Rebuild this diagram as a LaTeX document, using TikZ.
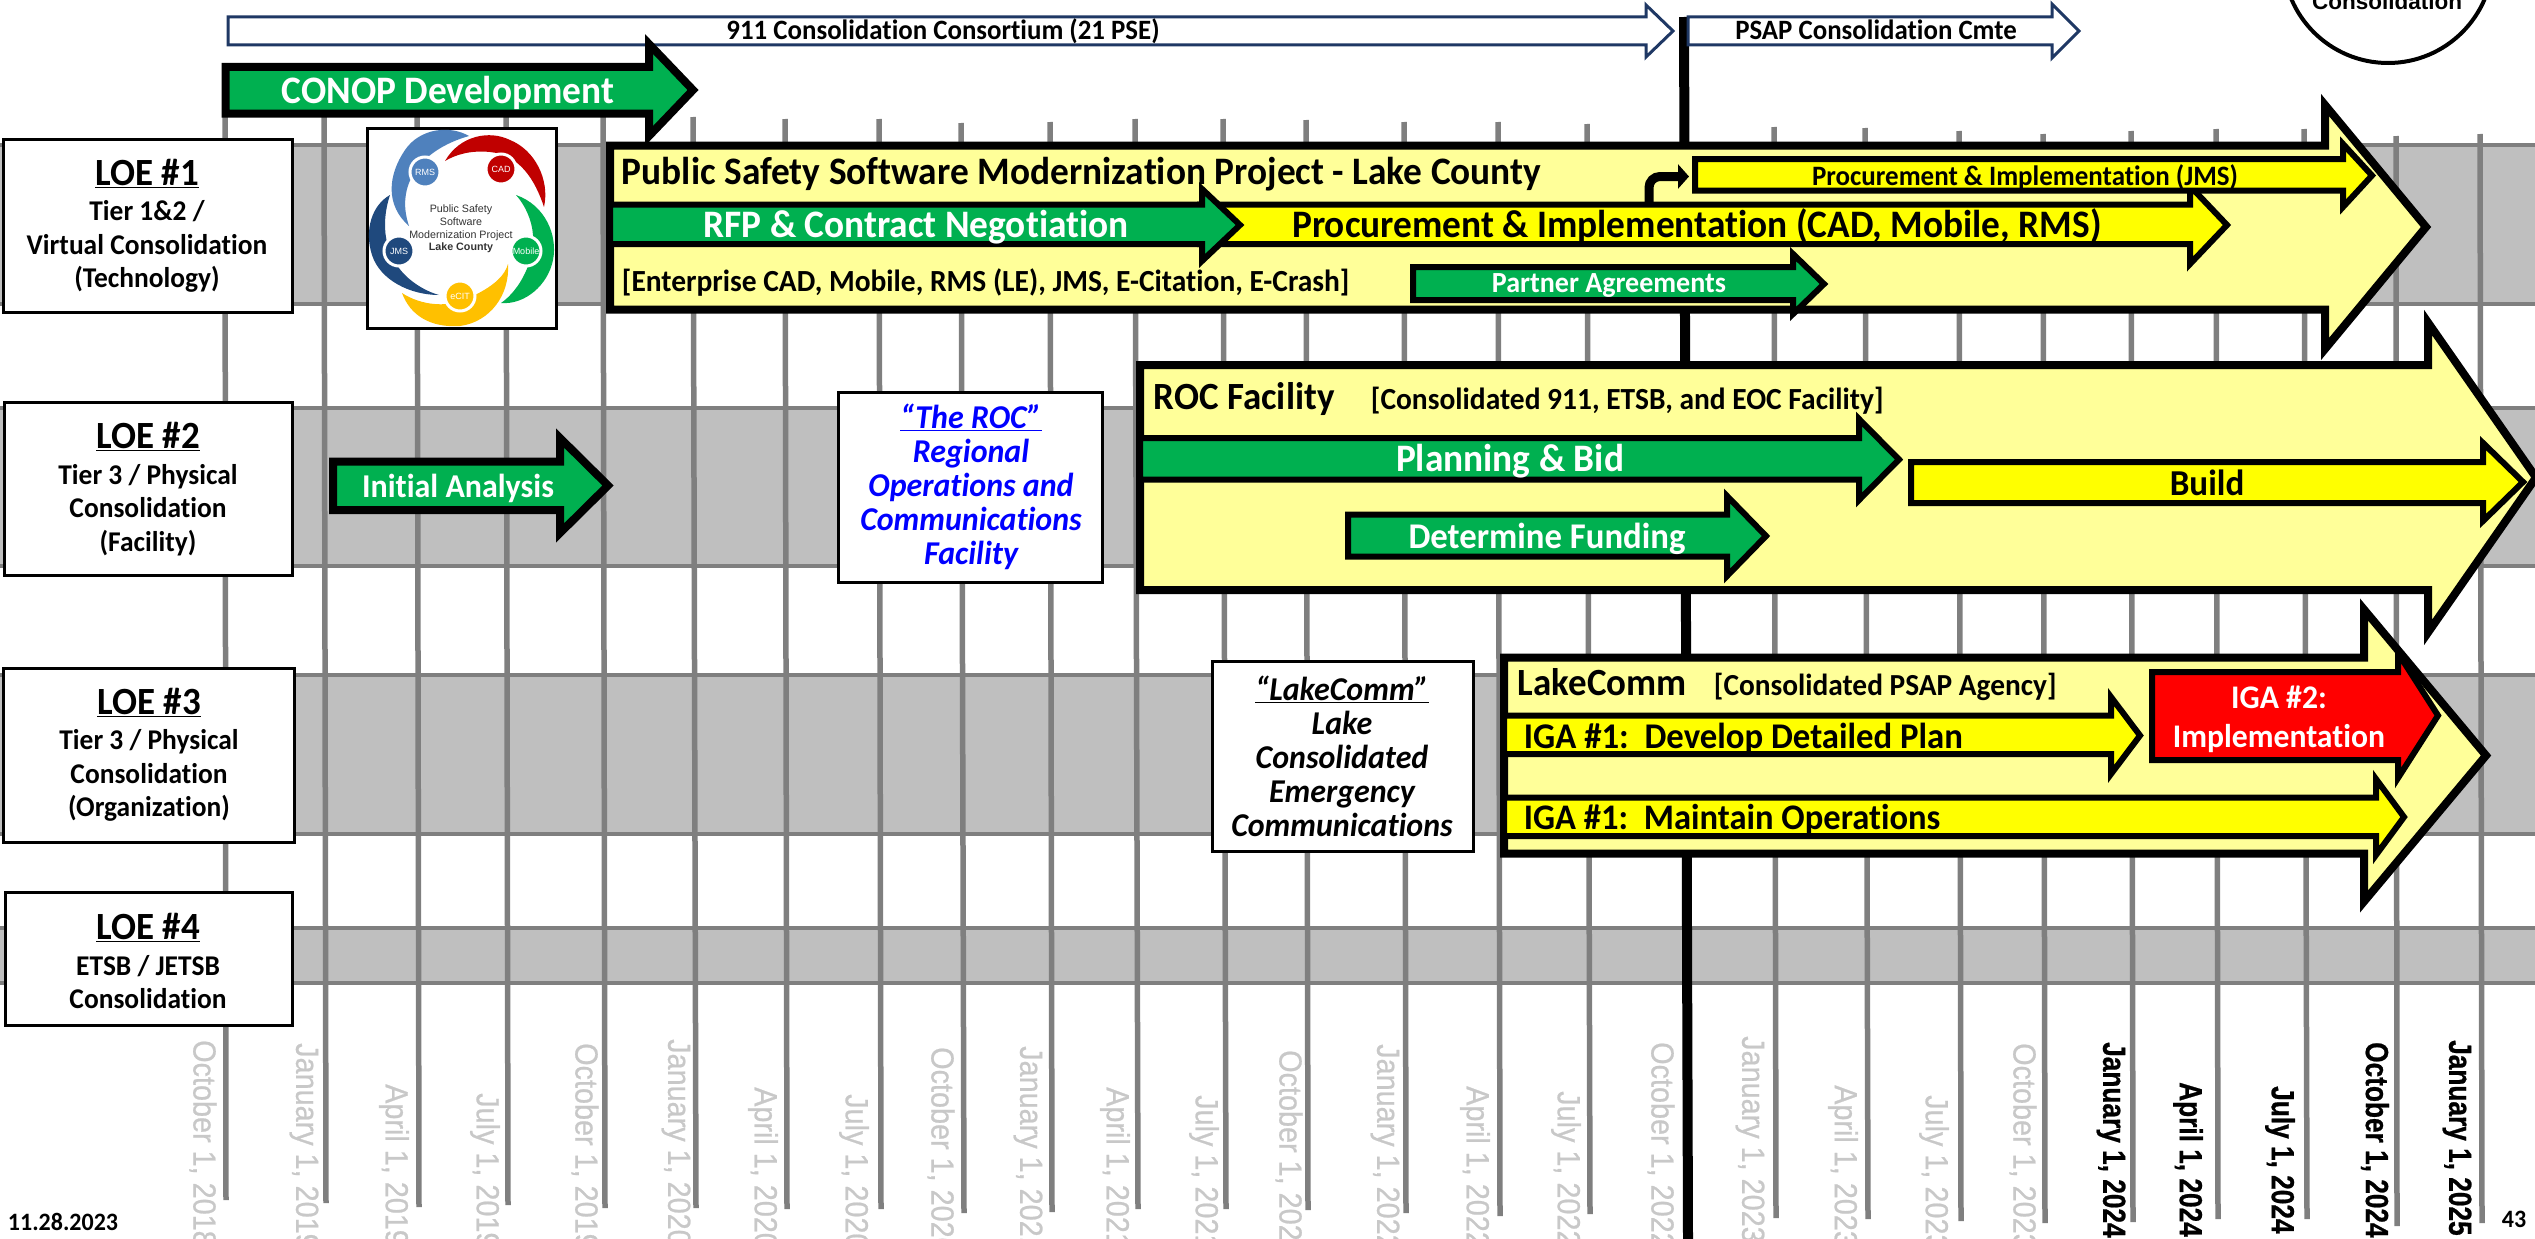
\documentclass[tikz,border=0pt]{standalone}
\usepackage{fontspec}
\setmainfont{Carlito}[FakeStretch=0.96,Ligatures=NoCommon]
\newfontfamily\datefont{Liberation Sans}[FakeStretch=0.9,FakeBold=0.7,BoldFeatures={FakeStretch=0.82}]
\newfontfamily\logofont{Liberation Sans}
\usepackage{tikz}
\usetikzlibrary{calc}
\usetikzlibrary{arrows.meta}

\definecolor{arrowgreen}{RGB}{0,176,80}
\definecolor{arrowyellow}{RGB}{255,255,0}
\definecolor{paleyellow}{RGB}{255,255,153}
\definecolor{gridgray}{RGB}{127,127,127}
\definecolor{bandgray}{RGB}{191,191,191}
\definecolor{dategray}{RGB}{200,200,200}
\definecolor{navyline}{RGB}{31,56,100}
\definecolor{logolight}{RGB}{79,129,189}
\definecolor{logored}{RGB}{192,0,0}
\definecolor{logonavy}{RGB}{31,73,125}
\definecolor{logogold}{RGB}{255,192,0}

\tikzset{
  bandrect/.style={draw=gridgray,fill=bandgray,line width=3.5},
  gridline/.style={draw=gridgray,line width=5.5},
  nowline/.style={draw=black,line width=10},
  loebox/.style={draw=black,fill=white,line width=3},
  bigarrow/.style={draw=black,fill=paleyellow,line width=8,miter limit=20},
  greenarrow/.style={draw=black,fill=arrowgreen,line width=#1,miter limit=20},
  yellowarrow/.style={draw=black,fill=arrowyellow,line width=#1,miter limit=20},
  redarrow/.style={draw=black,fill=red,line width=#1,miter limit=20},
  thinarrow/.style={draw=navyline,fill=white,line width=3,miter limit=20},
  boldtext/.style={font=\bfseries\fontsize{#1}{#1}\selectfont,inner sep=0.75pt},
  stacktext/.style={font=\bfseries\fontsize{28.6}{33.5}\selectfont,inner sep=0.75pt,align=center},
  italictext/.style={font=\bfseries\itshape\fontsize{33.3}{34}\selectfont,inner sep=0.75pt,align=center},
  datetext/.style={font=\datefont\fontsize{32}{32}\selectfont,text=dategray,rotate=-90,anchor=west,inner sep=0pt},
  datebold/.style={font=\datefont\bfseries\fontsize{32}{32}\selectfont,text=black,rotate=-90,anchor=west,inner sep=0pt},
  logodot/.style={shape=circle,draw=white,line width=3,minimum size=30,inner sep=0pt,text=white,font=\logofont\fontsize{9}{9}\selectfont},
  logotext/.style={font=\logofont\fontsize{10.7}{12.7}\selectfont,inner sep=0.75pt,align=center,text=black!80}
}
\newcommand{\loehead}[1]{{\fontsize{38.5}{40}\selectfont\underline{#1}}}

\begin{document}
\begin{tikzpicture}[x=1pt,y=1pt,yscale=-1,xscale=1]
                  \useasboundingbox (0,0) rectangle (2535,1239);

                  %Shape: Rectangle
                  \draw [bandrect] (-5,145) rectangle (2540,304);
                  \draw [bandrect] (-5,408) rectangle (2540,566);
                  \draw [bandrect] (-5,675) rectangle (2540,834);
                  \draw [bandrect] (-5,928) rectangle (2540,983);

                  %Straight Lines
                  \draw [gridline] (225,100) -- (226,1200);
                  \draw [gridline] (324,100) -- (326,1203);
                  \draw [gridline] (417,100) -- (419,1207);
                  \draw [gridline] (506,100) -- (508,1205);
                  \draw [gridline] (603,100) -- (605,1208);
                  \draw [gridline] (693,117) -- (696,1208);
                  \draw [gridline] (785,119) -- (787,1209);
                  \draw [gridline] (879,119) -- (881,1209);
                  \draw [gridline] (961,123) -- (964,1213);
                  \draw [gridline] (1050,122) -- (1052,1212);
                  \draw [gridline] (1135,119) -- (1138,1209);
                  \draw [gridline] (1223,119) -- (1226,1209);
                  \draw [gridline] (1306,120) -- (1308,1210);
                  \draw [gridline] (1404,122) -- (1406,1213);
                  \draw [gridline] (1498,122) -- (1500,1216);
                  \draw [gridline] (1587,124) -- (1590,1214);
                  \draw [gridline] (1774,127) -- (1776,1218);
                  \draw [gridline] (1865,128) -- (1868,1219);
                  \draw [gridline] (1959,131) -- (1961,1221);
                  \draw [gridline] (2043,134) -- (2045,1223);
                  \draw [gridline] (2131,131) -- (2133,1222);
                  \draw [gridline] (2216,129) -- (2218,1219);
                  \draw [gridline] (2304,129) -- (2307,1219);
                  \draw [gridline] (2396,136) -- (2397,1226);
                  \draw [gridline] (2480,134) -- (2482,1223);
                  \draw [nowline] (1684,17) -- (1688,1239);

                  %Shape: Circle
                  \draw [draw=black,fill=white,line width=4] (2388,-42) circle (105);
                  \draw (2387,10) node (circletext) [anchor=base][inner sep=0.75pt] [font=\logofont\bfseries\fontsize{22.5}{22.5}\selectfont] {Consolidation};

                  %Shape: Right Arrow
                  \draw [thinarrow] (228,17) -- (1646,17) -- (1646,5) -- (1673,31) -- (1646,57) -- (1646,45) -- (228,45) -- cycle ;
                  \draw [thinarrow] (1688,17) -- (2052,17) -- (2052,4) -- (2079,31) -- (2052,58) -- (2052,45) -- (1688,45) -- cycle ;
                  \draw [greenarrow=8] (225.5,67) -- (649,67) -- (649,44) -- (693,90) -- (649,136) -- (649,113.5) -- (225.5,113.5) -- cycle ;
                  \draw [greenarrow=8] (333,461.5) -- (560,461.5) -- (560,438) -- (608,485.5) -- (560,533) -- (560,510) -- (333,510) -- cycle ;

                  %Shape: Rectangle
                  \draw [loebox] (3,139) rectangle (292,312);
                  \draw [loebox] (4,402) rectangle (292,575);
                  \draw [loebox] (3,668) rectangle (294,842);
                  \draw [loebox] (5,892) rectangle (292,1025);
                  \draw [loebox] (367,128) rectangle (556,328);
                  \draw [loebox] (838,392) rectangle (1102,582);
                  \draw [loebox] (1212,661) rectangle (1473,851);

                  %Shape: Logo
                  \fill [logolight] (469,136) .. controls (450,125) and (420,128) .. (405,150) .. controls (388,175) and (385,205) .. (409,226) .. controls (395,185) and (420,150) .. cycle ;
                  \fill [logored] (445,161) .. controls (460,135) and (490,130) .. (510,140) .. controls (535,150) and (550,180) .. (544,207) .. controls (535,180) and (520,155) .. (490,152) .. controls (470,150) and (455,155) .. cycle ;
                  \fill [arrowgreen] (516,195) .. controls (545,205) and (558,235) .. (553,260) .. controls (548,285) and (525,305) .. (501,303) .. controls (520,290) and (535,260) .. (533,235) .. controls (532,220) and (525,205) .. cycle ;
                  \fill [logogold] (508,264) .. controls (510,295) and (490,322) .. (460,326) .. controls (430,328) and (410,315) .. (402,293) .. controls (420,305) and (450,310) .. (475,295) .. controls (495,285) and (505,275) .. cycle ;
                  \fill [logonavy] (439,295) .. controls (410,295) and (380,280) .. (372,255) .. controls (364,230) and (372,205) .. (390,195) .. controls (380,225) and (385,255) .. (405,275) .. controls (415,285) and (428,292) .. cycle ;
                  \draw (425,172) node (rmsdot) [logodot,fill=logolight] {RMS};
                  \draw (501,169) node (caddot) [logodot,fill=logored] {CAD};
                  \draw (526,251) node (mobiledot) [logodot,fill=arrowgreen] {Mobile};
                  \draw (460,296) node (ecitdot) [logodot,fill=logogold] {eCIT};
                  \draw (399,251) node (jmsdot) [logodot,fill=logonavy] {JMS};
                  \draw (461,229) node (logotitle) [logotext] {Public Safety\\Software\\Modernization Project\\\textbf{Lake County}};

                  %Shape: Right Arrow
                  \draw [bigarrow] (610,145.5) -- (2325,145.5) -- (2325,105) -- (2426,227) -- (2325,349) -- (2325,309.5) -- (610,309.5) -- cycle ;
                  \draw [yellowarrow=6] (1200,204.5) -- (2190,204.5) -- (2190,186) -- (2227,225) -- (2190,264) -- (2190,244) -- (1200,244) -- cycle ;
                  \draw [greenarrow=6] (610,204.5) -- (1202,204.5) -- (1202,189) -- (1240,225) -- (1202,261) -- (1202,244) -- (610,244) -- cycle ;
                  \draw [greenarrow=6] (1413,267) -- (1793,267) -- (1793,254) -- (1824,284) -- (1793,314) -- (1793,300) -- (1413,300) -- cycle ;
                  \draw [yellowarrow=6] (1695,159) -- (2343,159) -- (2343,144) -- (2372,175.5) -- (2343,207) -- (2343,190.5) -- (1695,190.5) -- cycle ;

                  %Straight Lines
                  \coordinate (bentstart) at (1649,204);
                  \coordinate (bentend) at (1689,176.5);
                  \draw [draw=black,line width=9,rounded corners=11,-{Triangle[length=11,width=24]}] (bentstart) |- (bentend);

                  %Shape: Right Arrow
                  \draw [bigarrow] (1140,365) -- (2428,365) -- (2428,322.5) -- (2536,477.5) -- (2428,632.5) -- (2428,590) -- (1140,590) -- cycle ;
                  \draw [greenarrow=6] (1140,438) -- (1859,438) -- (1859,419) -- (1899,459.5) -- (1859,500) -- (1859,479.5) -- (1140,479.5) -- cycle ;
                  \draw [yellowarrow=6] (1911,462) -- (2483,462) -- (2483,443) -- (2523,482) -- (2483,521) -- (2483,503) -- (1911,503) -- cycle ;
                  \draw [greenarrow=6] (1348,514.5) -- (1727,514.5) -- (1727,496) -- (1766,536) -- (1727,576) -- (1727,556.5) -- (1348,556.5) -- cycle ;

                  \draw [bigarrow] (1504,657.5) -- (2364,657.5) -- (2364,609.5) -- (2486,755.5) -- (2364,901.5) -- (2364,853.5) -- (1504,853.5) -- cycle ;
                  \draw [yellowarrow=6] (1504,715.5) -- (2111,715.5) -- (2111,697) -- (2140,735.5) -- (2111,774) -- (2111,754) -- (1504,754) -- cycle ;
                  \draw [redarrow=6] (2152,672) -- (2398,672) -- (2398,653) -- (2438,715.5) -- (2398,778) -- (2398,760) -- (2152,760) -- cycle ;
                  \draw [yellowarrow=6] (1504,797.5) -- (2376,797.5) -- (2376,779) -- (2404,817) -- (2376,855) -- (2376,836) -- (1504,836) -- cycle ;

                  % Text Node
                  \draw (943,40) node (consortiumtext) [anchor=base][boldtext=28] {911 Consolidation Consortium (21 PSE)};
                  \draw (1876,40) node (psaptext) [anchor=base][boldtext=28] {PSAP Consolidation Cmte};
                  \draw (448,103.4) node (conoptext) [anchor=base][boldtext=38.9,text=white] {CONOP Development};
                  \draw (458,497.7) node (initialtext) [anchor=base][boldtext=33.3,text=white] {Initial Analysis};

                  % Text Node
                  \draw (147,226) node (loeonetext) [stacktext] {\loehead{LOE \#1}\\[2pt]Tier 1\&2 /\\Virtual Consolidation\\(Technology)};
                  \draw (148,489) node (loetwotext) [stacktext] {\loehead{LOE \#2}\\[2pt]Tier 3 / Physical\\Consolidation\\(Facility)};
                  \draw (149,755) node (loethreetext) [stacktext] {\loehead{LOE \#3}\\[2pt]Tier 3 / Physical\\Consolidation\\(Organization)};
                  \draw (148,961) node (loefourtext) [stacktext] {\loehead{LOE \#4}\\[2pt]ETSB / JETSB\\Consolidation};

                  % Text Node
                  \draw (971,487) node (roctext) [italictext,text=blue] {\underline{“The ROC”}\\Regional\\Operations and\\Communications\\Facility};
                  \draw (1342,756) node (lakecommtext) [italictext] {\underline{“LakeComm”}\\Lake\\Consolidated\\Emergency\\Communications};

                  % Text Node
                  \draw (621,184.4) node (publictext) [anchor=base west][boldtext=38.9] {Public Safety Software Modernization Project - Lake County};
                  \draw (916,237.4) node (rfptext) [anchor=base][boldtext=38.9,text=white] {RFP \& Contract Negotiation};
                  \draw (1697,237.4) node (cadtext) [anchor=base][boldtext=38.9] {Procurement \& Implementation (CAD, Mobile, RMS)};
                  \draw (2025,185) node (jmstext) [anchor=base][boldtext=28.1] {Procurement \& Implementation (JMS)};
                  \draw (621,291.8) node (enterprisetext) [anchor=base west][boldtext=30.7] {[Enterprise CAD, Mobile, RMS (LE), JMS, E-Citation, E-Crash]};
                  \draw (1609,292.3) node (partnertext) [anchor=base][boldtext=29.2,text=white] {Partner Agreements};

                  % Text Node
                  \draw (1153,409.3) node (rocfacilitytext) [anchor=base west][boldtext=38.5] {ROC Facility};
                  \draw (1370,409.8) node (rocnotetext) [anchor=base west][boldtext=30.7] {[Consolidated 911, ETSB, and EOC Facility]};
                  \draw (1510,471.4) node (planningtext) [anchor=base][boldtext=38.9,text=white] {Planning \& Bid};
                  \draw (2207,495.7) node (buildtext) [anchor=base][boldtext=36.5] {Build};
                  \draw (1547,548.6) node (fundingtext) [anchor=base][boldtext=36.2,text=white] {Determine Funding};

                  % Text Node
                  \draw (1517,695.3) node (lakefacilitytext) [anchor=base west][boldtext=38.5] {LakeComm};
                  \draw (1713,695.8) node (lakenotetext) [anchor=base west][boldtext=30.6] {[Consolidated PSAP Agency]};
                  \draw (1523,748.6) node (developtext) [anchor=base west][boldtext=36.2] {IGA \#1:\ \ Develop Detailed Plan};
                  \draw (1523,829) node (maintaintext) [anchor=base west][boldtext=36] {IGA \#1:\ \ Maintain Operations};
                  \draw (2279,719) node (implementtext) [font=\bfseries\fontsize{33}{39}\selectfont,inner sep=0.75pt,align=center,text=white] {IGA \#2:\\Implementation};

                  % Text Node
                  \draw (203,1040) node (dateone) [datetext] {October 1, 2018};
                  \draw (304,1043) node (datetwo) [datetext] {January 1, 2019};
                  \draw (394,1084) node (datethree) [datetext] {April 1, 2019};
                  \draw (485,1093) node (datefour) [datetext] {July 1, 2019};
                  \draw (585,1043) node (datefive) [datetext] {October 1, 2019};
                  \draw (676,1039) node (datesix) [datetext] {January 1, 2020};
                  \draw (763,1087) node (dateseven) [datetext] {April 1, 2020};
                  \draw (854,1094) node (dateeight) [datetext] {July 1, 2020};
                  \draw (941,1047) node (datenine) [datetext] {October 1, 2020};
                  \draw (1028,1046) node (dateten) [datetext] {January 1, 2021};
                  \draw (1115,1087) node (dateeleven) [datetext] {April 1, 2021};
                  \draw (1204,1095) node (datetwelve) [datetext] {July 1, 2021};
                  \draw (1289,1050) node (datethirteen) [datetext] {October 1, 2021};
                  \draw (1385,1044) node (datefourteen) [datetext] {January 1, 2022};
                  \draw (1475,1086) node (datefifteen) [datetext] {April 1, 2022};
                  \draw (1566,1091) node (datesixteen) [datetext] {July 1, 2022};
                  \draw (1661,1042) node (dateseventeen) [datetext] {October 1, 2022};
                  \draw (1750,1036) node (dateeighteen) [datetext] {January 1, 2023};
                  \draw (1843,1085) node (datenineteen) [datetext] {April 1, 2023};
                  \draw (1934,1095) node (datetwenty) [datetext] {July 1, 2023};
                  \draw (2023,1043) node (datetwentyone) [datetext] {October 1, 2023};
                  \draw (2111,1042) node (datetwentytwo) [datebold] {January 1, 2024};
                  \draw (2188,1082) node (datetwentythree) [datebold] {April 1, 2024};
                  \draw (2280,1086) node (datetwentyfour) [datebold] {July 1, 2024};
                  \draw (2375,1042) node (datetwentyfive) [datebold] {October 1, 2024};
                  \draw (2457,1040) node (datetwentysix) [datebold] {January 1, 2025};

                  % Text Node
                  \draw (7,1230) node (stamptext) [anchor=base west][boldtext=25] {11.28.2023};
                  \draw (2501,1227) node (pagetext) [anchor=base west][boldtext=25] {43};
\end{tikzpicture}
\end{document}
